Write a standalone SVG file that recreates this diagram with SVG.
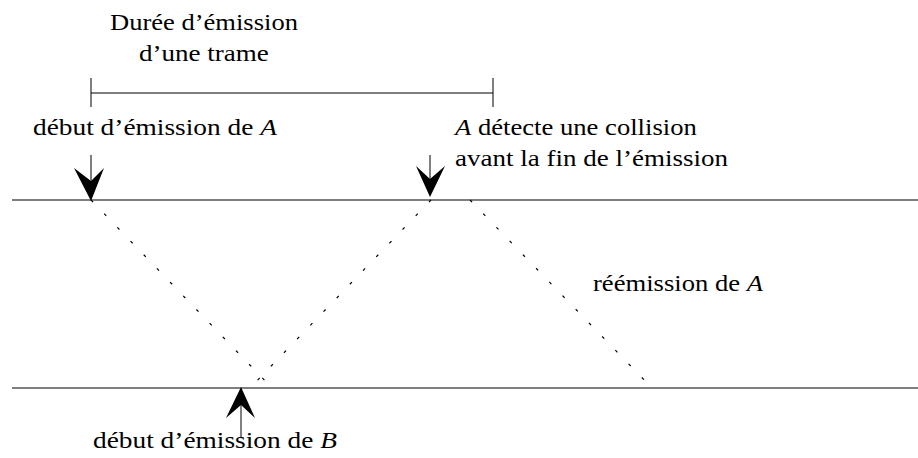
<svg xmlns="http://www.w3.org/2000/svg" width="918" height="458" viewBox="0 0 918 458">
<style>
.t{font-size:23px;fill:#000}
.i{font-style:italic}
.ln{stroke:#000;stroke-width:1.2;fill:none}
.thin{stroke:#000;stroke-width:1;fill:none}
.dot{stroke:#000;stroke-width:1.2;fill:none;stroke-dasharray:3 16}
.hd{fill:#000;stroke:none}
</style>
<rect width="918" height="458" fill="#fff"/>
<g id="medium">
<line class="ln" x1="12" y1="200" x2="918" y2="200"/>
<line class="ln" x1="12" y1="388" x2="918" y2="388"/>
</g>
<g id="duration">
<line class="thin" x1="91" y1="93" x2="493" y2="93"/>
<line class="thin" x1="91" y1="78" x2="91" y2="107"/>
<line class="thin" x1="493" y1="78" x2="493" y2="107"/>
<g transform="translate(110,30) scale(1.154,1)"><text class="t" font-family="Liberation Serif" x="0" y="0">Durée d’émission</text></g>
<g transform="translate(139,61) scale(1.176,1)"><text class="t" font-family="Liberation Serif" x="0" y="0">d’une trame</text></g>
</g>
<g id="connectors">
<line class="dot" x1="91" y1="200" x2="272" y2="388"/>
<line class="dot" x1="431" y1="200" x2="250" y2="388"/>
<line class="dot" x1="470" y1="200" x2="652" y2="388"/>
</g>
<g id="startA">
<line class="thin" x1="91" y1="155" x2="91" y2="185"/>
<path class="hd" d="M91,201 L74,168 L91,181 L104,168 Z"/>
<g transform="translate(33,135) scale(1.19,1)"><text class="t" font-family="Liberation Serif" x="0" y="0">début d’émission de <tspan class="i">A</tspan></text></g>
</g>
<g id="collision">
<line class="thin" x1="430" y1="155" x2="430" y2="182"/>
<path class="hd" d="M430,197 L416,166 L430,179 L445,166 Z"/>
<g transform="translate(455,135) scale(1.158,1)"><text class="t" font-family="Liberation Serif" x="0" y="0"><tspan class="i">A</tspan> détecte une collision</text></g>
<g transform="translate(455,166) scale(1.174,1)"><text class="t" font-family="Liberation Serif" x="0" y="0">avant la fin de l’émission</text></g>
</g>
<g id="reemission">
<g transform="translate(593,291) scale(1.157,1)"><text class="t" font-family="Liberation Serif" x="0" y="0">réémission de <tspan class="i">A</tspan></text></g>
</g>
<g id="startB">
<line class="thin" x1="241" y1="405" x2="241" y2="437"/>
<path class="hd" d="M241,387 L226,418 L241,405 L255,418 Z"/>
<g transform="translate(93,448) scale(1.19,1)"><text class="t" font-family="Liberation Serif" x="0" y="0">début d’émission de <tspan class="i">B</tspan></text></g>
</g>
</svg>
